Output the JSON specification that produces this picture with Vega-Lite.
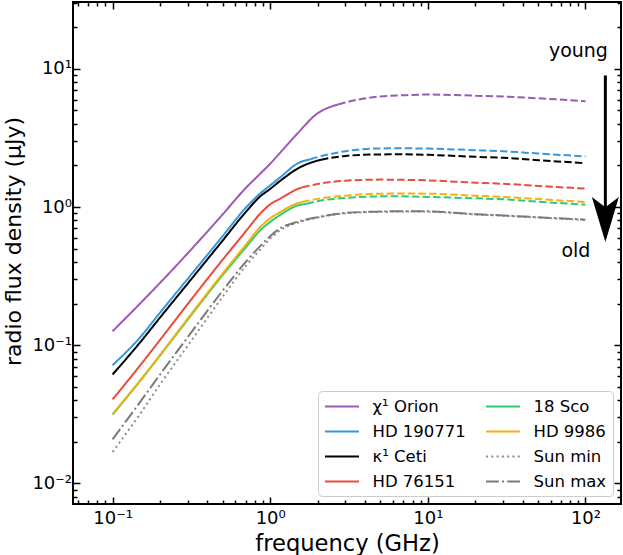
{
  "$schema": "https://vega.github.io/schema/vega-lite/v6.json",
  "width": 548,
  "height": 502,
  "autosize": {"type": "none"},
  "padding": {"left": 73, "top": 2, "right": 2, "bottom": 51},
  "background": "white",
  "config": {
    "view": {"stroke": "black", "strokeWidth": 2},
    "font": "DejaVu Sans",
    "axis": {
      "grid": false,
      "domain": false,
      "ticks": true,
      "tickColor": "black",
      "tickWidth": 1.5,
      "labelFont": "DejaVu Sans",
      "labelFontSize": 18,
      "labelColor": "black",
      "titleFont": "DejaVu Sans",
      "titleFontSize": 22.6,
      "titleFontWeight": "normal",
      "titleColor": "black",
      "labelOverlap": false,
      "labelFlush": false
    }
  },
  "datasets": {
    "curves": [
      {"name": "χ¹ Orion", "seg": "solid", "f": 0.1, "v": 0.1263},
      {"name": "χ¹ Orion", "seg": "solid", "f": 0.15, "v": 0.2012},
      {"name": "χ¹ Orion", "seg": "solid", "f": 0.2, "v": 0.2826},
      {"name": "χ¹ Orion", "seg": "solid", "f": 0.3, "v": 0.4634},
      {"name": "χ¹ Orion", "seg": "solid", "f": 0.5, "v": 0.8871},
      {"name": "χ¹ Orion", "seg": "solid", "f": 0.7, "v": 1.374},
      {"name": "χ¹ Orion", "seg": "solid", "f": 0.864, "v": 1.744},
      {"name": "χ¹ Orion", "seg": "solid", "f": 1, "v": 2.06},
      {"name": "χ¹ Orion", "seg": "solid", "f": 1.157, "v": 2.474},
      {"name": "χ¹ Orion", "seg": "solid", "f": 1.5, "v": 3.44},
      {"name": "χ¹ Orion", "seg": "solid", "f": 2, "v": 4.775},
      {"name": "χ¹ Orion", "seg": "solid", "f": 2.4, "v": 5.303},
      {"name": "χ¹ Orion", "seg": "solid", "f": 2.7, "v": 5.53},
      {"name": "χ¹ Orion", "seg": "dashed", "f": 2.7, "v": 5.53},
      {"name": "χ¹ Orion", "seg": "dashed", "f": 3, "v": 5.72},
      {"name": "χ¹ Orion", "seg": "dashed", "f": 5, "v": 6.317},
      {"name": "χ¹ Orion", "seg": "dashed", "f": 7, "v": 6.445},
      {"name": "χ¹ Orion", "seg": "dashed", "f": 10, "v": 6.521},
      {"name": "χ¹ Orion", "seg": "dashed", "f": 20, "v": 6.402},
      {"name": "χ¹ Orion", "seg": "dashed", "f": 30, "v": 6.306},
      {"name": "χ¹ Orion", "seg": "dashed", "f": 50, "v": 6.13},
      {"name": "χ¹ Orion", "seg": "dashed", "f": 100, "v": 5.841},

      {"name": "HD 190771", "seg": "solid", "f": 0.1, "v": 0.0717},
      {"name": "HD 190771", "seg": "solid", "f": 0.15, "v": 0.1145},
      {"name": "HD 190771", "seg": "solid", "f": 0.2, "v": 0.1721},
      {"name": "HD 190771", "seg": "solid", "f": 0.3, "v": 0.3026},
      {"name": "HD 190771", "seg": "solid", "f": 0.5, "v": 0.617},
      {"name": "HD 190771", "seg": "solid", "f": 0.7, "v": 0.9884},
      {"name": "HD 190771", "seg": "solid", "f": 0.864, "v": 1.256},
      {"name": "HD 190771", "seg": "solid", "f": 1, "v": 1.435},
      {"name": "HD 190771", "seg": "solid", "f": 1.157, "v": 1.64},
      {"name": "HD 190771", "seg": "solid", "f": 1.5, "v": 2.077},
      {"name": "HD 190771", "seg": "solid", "f": 1.8, "v": 2.22},
      {"name": "HD 190771", "seg": "dashed", "f": 1.8, "v": 2.22},
      {"name": "HD 190771", "seg": "dashed", "f": 2, "v": 2.299},
      {"name": "HD 190771", "seg": "dashed", "f": 3, "v": 2.537},
      {"name": "HD 190771", "seg": "dashed", "f": 5, "v": 2.658},
      {"name": "HD 190771", "seg": "dashed", "f": 7, "v": 2.662},
      {"name": "HD 190771", "seg": "dashed", "f": 10, "v": 2.649},
      {"name": "HD 190771", "seg": "dashed", "f": 20, "v": 2.579},
      {"name": "HD 190771", "seg": "dashed", "f": 30, "v": 2.537},
      {"name": "HD 190771", "seg": "dashed", "f": 50, "v": 2.441},
      {"name": "HD 190771", "seg": "dashed", "f": 100, "v": 2.326},

      {"name": "κ¹ Ceti", "seg": "solid", "f": 0.1, "v": 0.0614},
      {"name": "κ¹ Ceti", "seg": "solid", "f": 0.15, "v": 0.1053},
      {"name": "κ¹ Ceti", "seg": "solid", "f": 0.2, "v": 0.1586},
      {"name": "κ¹ Ceti", "seg": "solid", "f": 0.3, "v": 0.2798},
      {"name": "κ¹ Ceti", "seg": "solid", "f": 0.5, "v": 0.5735},
      {"name": "κ¹ Ceti", "seg": "solid", "f": 0.7, "v": 0.9216},
      {"name": "κ¹ Ceti", "seg": "solid", "f": 0.864, "v": 1.195},
      {"name": "κ¹ Ceti", "seg": "solid", "f": 1, "v": 1.354},
      {"name": "κ¹ Ceti", "seg": "solid", "f": 1.157, "v": 1.547},
      {"name": "κ¹ Ceti", "seg": "solid", "f": 1.5, "v": 1.905},
      {"name": "κ¹ Ceti", "seg": "solid", "f": 2, "v": 2.169},
      {"name": "κ¹ Ceti", "seg": "solid", "f": 2.1, "v": 2.201},
      {"name": "κ¹ Ceti", "seg": "dashed", "f": 2.1, "v": 2.201},
      {"name": "κ¹ Ceti", "seg": "dashed", "f": 3, "v": 2.346},
      {"name": "κ¹ Ceti", "seg": "dashed", "f": 5, "v": 2.404},
      {"name": "κ¹ Ceti", "seg": "dashed", "f": 7, "v": 2.408},
      {"name": "κ¹ Ceti", "seg": "dashed", "f": 10, "v": 2.388},
      {"name": "κ¹ Ceti", "seg": "dashed", "f": 20, "v": 2.31},
      {"name": "κ¹ Ceti", "seg": "dashed", "f": 30, "v": 2.272},
      {"name": "κ¹ Ceti", "seg": "dashed", "f": 50, "v": 2.183},
      {"name": "κ¹ Ceti", "seg": "dashed", "f": 100, "v": 2.08},

      {"name": "HD 76151", "seg": "solid", "f": 0.1, "v": 0.0405},
      {"name": "HD 76151", "seg": "solid", "f": 0.15, "v": 0.0717},
      {"name": "HD 76151", "seg": "solid", "f": 0.2, "v": 0.1092},
      {"name": "HD 76151", "seg": "solid", "f": 0.3, "v": 0.1989},
      {"name": "HD 76151", "seg": "solid", "f": 0.5, "v": 0.4165},
      {"name": "HD 76151", "seg": "solid", "f": 0.7, "v": 0.6673},
      {"name": "HD 76151", "seg": "solid", "f": 0.864, "v": 0.896},
      {"name": "HD 76151", "seg": "solid", "f": 1, "v": 1.046},
      {"name": "HD 76151", "seg": "solid", "f": 1.157, "v": 1.15},
      {"name": "HD 76151", "seg": "solid", "f": 1.5, "v": 1.354},
      {"name": "HD 76151", "seg": "solid", "f": 1.6, "v": 1.388},
      {"name": "HD 76151", "seg": "dashed", "f": 1.6, "v": 1.388},
      {"name": "HD 76151", "seg": "dashed", "f": 2, "v": 1.471},
      {"name": "HD 76151", "seg": "dashed", "f": 3, "v": 1.552},
      {"name": "HD 76151", "seg": "dashed", "f": 5, "v": 1.58},
      {"name": "HD 76151", "seg": "dashed", "f": 7, "v": 1.575},
      {"name": "HD 76151", "seg": "dashed", "f": 10, "v": 1.56},
      {"name": "HD 76151", "seg": "dashed", "f": 20, "v": 1.501},
      {"name": "HD 76151", "seg": "dashed", "f": 30, "v": 1.474},
      {"name": "HD 76151", "seg": "dashed", "f": 50, "v": 1.423},
      {"name": "HD 76151", "seg": "dashed", "f": 100, "v": 1.359},

      {"name": "18 Sco", "seg": "solid", "f": 0.1, "v": 0.0314},
      {"name": "18 Sco", "seg": "solid", "f": 0.15, "v": 0.0554},
      {"name": "18 Sco", "seg": "solid", "f": 0.2, "v": 0.0842},
      {"name": "18 Sco", "seg": "solid", "f": 0.3, "v": 0.1534},
      {"name": "18 Sco", "seg": "solid", "f": 0.5, "v": 0.3228},
      {"name": "18 Sco", "seg": "solid", "f": 0.7, "v": 0.5111},
      {"name": "18 Sco", "seg": "solid", "f": 0.864, "v": 0.6783},
      {"name": "18 Sco", "seg": "solid", "f": 1, "v": 0.7815},
      {"name": "18 Sco", "seg": "solid", "f": 1.157, "v": 0.8782},
      {"name": "18 Sco", "seg": "solid", "f": 1.5, "v": 1.029},
      {"name": "18 Sco", "seg": "solid", "f": 1.7, "v": 1.055},
      {"name": "18 Sco", "seg": "dashed", "f": 1.7, "v": 1.055},
      {"name": "18 Sco", "seg": "dashed", "f": 2, "v": 1.103},
      {"name": "18 Sco", "seg": "dashed", "f": 3, "v": 1.164},
      {"name": "18 Sco", "seg": "dashed", "f": 5, "v": 1.195},
      {"name": "18 Sco", "seg": "dashed", "f": 7, "v": 1.195},
      {"name": "18 Sco", "seg": "dashed", "f": 10, "v": 1.185},
      {"name": "18 Sco", "seg": "dashed", "f": 20, "v": 1.156},
      {"name": "18 Sco", "seg": "dashed", "f": 30, "v": 1.139},
      {"name": "18 Sco", "seg": "dashed", "f": 50, "v": 1.094},
      {"name": "18 Sco", "seg": "dashed", "f": 100, "v": 1.041},

      {"name": "HD 9986", "seg": "solid", "f": 0.1, "v": 0.0317},
      {"name": "HD 9986", "seg": "solid", "f": 0.15, "v": 0.0558},
      {"name": "HD 9986", "seg": "solid", "f": 0.2, "v": 0.0851},
      {"name": "HD 9986", "seg": "solid", "f": 0.3, "v": 0.156},
      {"name": "HD 9986", "seg": "solid", "f": 0.5, "v": 0.3311},
      {"name": "HD 9986", "seg": "solid", "f": 0.7, "v": 0.5329},
      {"name": "HD 9986", "seg": "solid", "f": 0.864, "v": 0.7166},
      {"name": "HD 9986", "seg": "solid", "f": 1, "v": 0.8286},
      {"name": "HD 9986", "seg": "solid", "f": 1.157, "v": 0.9202},
      {"name": "HD 9986", "seg": "solid", "f": 1.5, "v": 1.069},
      {"name": "HD 9986", "seg": "solid", "f": 1.6, "v": 1.09},
      {"name": "HD 9986", "seg": "dashed", "f": 1.6, "v": 1.09},
      {"name": "HD 9986", "seg": "dashed", "f": 2, "v": 1.146},
      {"name": "HD 9986", "seg": "dashed", "f": 3, "v": 1.209},
      {"name": "HD 9986", "seg": "dashed", "f": 5, "v": 1.25},
      {"name": "HD 9986", "seg": "dashed", "f": 7, "v": 1.252},
      {"name": "HD 9986", "seg": "dashed", "f": 10, "v": 1.25},
      {"name": "HD 9986", "seg": "dashed", "f": 20, "v": 1.207},
      {"name": "HD 9986", "seg": "dashed", "f": 30, "v": 1.185},
      {"name": "HD 9986", "seg": "dashed", "f": 50, "v": 1.143},
      {"name": "HD 9986", "seg": "dashed", "f": 100, "v": 1.087},

      {"name": "Sun min", "seg": "sun", "f": 0.1, "v": 0.0169},
      {"name": "Sun min", "seg": "sun", "f": 0.15, "v": 0.032},
      {"name": "Sun min", "seg": "sun", "f": 0.2, "v": 0.052},
      {"name": "Sun min", "seg": "sun", "f": 0.3, "v": 0.0993},
      {"name": "Sun min", "seg": "sun", "f": 0.5, "v": 0.225},
      {"name": "Sun min", "seg": "sun", "f": 0.7, "v": 0.3751},
      {"name": "Sun min", "seg": "sun", "f": 0.864, "v": 0.492},
      {"name": "Sun min", "seg": "sun", "f": 1, "v": 0.5907},
      {"name": "Sun min", "seg": "sun", "f": 1.157, "v": 0.6783},
      {"name": "Sun min", "seg": "sun", "f": 1.5, "v": 0.7713},
      {"name": "Sun min", "seg": "sun", "f": 2, "v": 0.8396},
      {"name": "Sun min", "seg": "sun", "f": 3, "v": 0.9019},
      {"name": "Sun min", "seg": "sun", "f": 5, "v": 0.9232},
      {"name": "Sun min", "seg": "sun", "f": 7, "v": 0.9294},
      {"name": "Sun min", "seg": "sun", "f": 10, "v": 0.9263},
      {"name": "Sun min", "seg": "sun", "f": 20, "v": 0.8841},
      {"name": "Sun min", "seg": "sun", "f": 30, "v": 0.8651},
      {"name": "Sun min", "seg": "sun", "f": 50, "v": 0.8396},
      {"name": "Sun min", "seg": "sun", "f": 100, "v": 0.8067},

      {"name": "Sun max", "seg": "sun", "f": 0.1, "v": 0.0208},
      {"name": "Sun max", "seg": "sun", "f": 0.15, "v": 0.039},
      {"name": "Sun max", "seg": "sun", "f": 0.2, "v": 0.0614},
      {"name": "Sun max", "seg": "sun", "f": 0.3, "v": 0.1145},
      {"name": "Sun max", "seg": "sun", "f": 0.5, "v": 0.2486},
      {"name": "Sun max", "seg": "sun", "f": 0.7, "v": 0.4009},
      {"name": "Sun max", "seg": "sun", "f": 0.864, "v": 0.5215},
      {"name": "Sun max", "seg": "sun", "f": 1, "v": 0.616},
      {"name": "Sun max", "seg": "sun", "f": 1.157, "v": 0.7015},
      {"name": "Sun max", "seg": "sun", "f": 1.5, "v": 0.7842},
      {"name": "Sun max", "seg": "sun", "f": 2, "v": 0.8439},
      {"name": "Sun max", "seg": "sun", "f": 3, "v": 0.9066},
      {"name": "Sun max", "seg": "sun", "f": 5, "v": 0.9278},
      {"name": "Sun max", "seg": "sun", "f": 7, "v": 0.934},
      {"name": "Sun max", "seg": "sun", "f": 10, "v": 0.9309},
      {"name": "Sun max", "seg": "sun", "f": 20, "v": 0.8887},
      {"name": "Sun max", "seg": "sun", "f": 30, "v": 0.8695},
      {"name": "Sun max", "seg": "sun", "f": 50, "v": 0.8439},
      {"name": "Sun max", "seg": "sun", "f": 100, "v": 0.8108}
    ],
    "notes": [
      {"label": "young", "f": 90.2, "v": 12.29},
      {"label": "old", "f": 86.9, "v": 0.435}
    ],
    "shaft": [
      {"f": 133.7, "v": 8.96, "v2": 0.87}
    ],
    "head": [
      {"f": 133.7, "v": 0.812}
    ]
  },
  "layer": [
    {
      "data": {"name": "curves"},
      "transform": [{"filter": "datum.seg != 'dashed'"}],
      "mark": {"type": "line", "strokeWidth": 2, "interpolate": "monotone", "clip": true},
      "encoding": {
        "x": {
          "field": "f",
          "type": "quantitative",
          "scale": {"type": "log", "domain": [0.0561, 168], "nice": false},
          "axis": {
            "orient": "bottom",
            "title": "frequency (GHz)",
            "titlePadding": 2.5,
            "values": [0.06, 0.07, 0.08, 0.09, 0.1, 0.2, 0.3, 0.4, 0.5, 0.6, 0.7, 0.8, 0.9, 1, 2, 3, 4, 5, 6, 7, 8, 9, 10, 20, 30, 40, 50, 60, 70, 80, 90, 100],
            "labelExpr": "datum.value === 0.1 ? '10⁻¹' : datum.value === 1 ? '10⁰' : datum.value === 10 ? '10¹' : datum.value === 100 ? '10²' : ''",
            "labelPadding": 12,
            "tickSize": {"condition": {"test": "datum.value === 0.1 || datum.value === 1 || datum.value === 10 || datum.value === 100", "value": -7}, "value": -4}
          }
        },
        "y": {
          "field": "v",
          "type": "quantitative",
          "scale": {"type": "log", "domain": [0.00709, 30.5], "nice": false},
          "axis": {
            "orient": "left",
            "title": "radio flux density  (μJy)",
            "titleFontSize": 22,
            "titlePadding": 6,
            "titleY": 239,
            "values": [0.008, 0.009, 0.01, 0.02, 0.03, 0.04, 0.05, 0.06, 0.07, 0.08, 0.09, 0.1, 0.2, 0.3, 0.4, 0.5, 0.6, 0.7, 0.8, 0.9, 1, 2, 3, 4, 5, 6, 7, 8, 9, 10, 20, 30],
            "labelExpr": "datum.value === 0.01 ? '10⁻²' : datum.value === 0.1 ? '10⁻¹' : datum.value === 1 ? '10⁰' : datum.value === 10 ? '10¹' : ''",
            "labelPadding": 8.5,
            "tickSize": {"condition": {"test": "datum.value === 0.01 || datum.value === 0.1 || datum.value === 1 || datum.value === 10", "value": -7}, "value": -4}
          }
        },
        "color": {
          "field": "name",
          "type": "nominal",
          "scale": {
            "domain": ["χ¹ Orion", "HD 190771", "κ¹ Ceti", "HD 76151", "18 Sco", "HD 9986", "Sun min", "Sun max"],
            "range": ["#9b59b6", "#3498db", "#000000", "#e74c3c", "#2ecc71", "#f1b20f", "#8c8c8c", "#7a7a7a"]
          },
          "legend": {
            "title": null,
            "orient": "bottom-right",
            "offset": 8,
            "columns": 2,
            "gridAlign": "each",
            "symbolType": "M-1,0H3",
            "symbolSize": 289,
            "symbolStrokeWidth": 2,
            "labelFont": "DejaVu Sans",
            "labelFontSize": 16.5,
            "labelColor": "black",
            "labelOffset": 29.5,
            "labelLimit": 300,
            "rowPadding": 7,
            "columnPadding": 16,
            "padding": 6,
            "fillColor": "white",
            "strokeColor": "#cccccc",
            "cornerRadius": 4
          }
        },
        "strokeDash": {
          "field": "name",
          "type": "nominal",
          "scale": {
            "domain": ["χ¹ Orion", "HD 190771", "κ¹ Ceti", "HD 76151", "18 Sco", "HD 9986", "Sun min", "Sun max"],
            "range": [[1, 0], [1, 0], [1, 0], [1, 0], [1, 0], [1, 0], [2, 3.3], [12.8, 3.2, 2, 3.2]]
          },
          "legend": {
            "title": null,
            "orient": "bottom-right",
            "offset": 8,
            "columns": 2,
            "gridAlign": "each",
            "symbolType": "M-1,0H3",
            "symbolSize": 289,
            "symbolStrokeWidth": 2,
            "labelFont": "DejaVu Sans",
            "labelFontSize": 16.5,
            "labelColor": "black",
            "labelOffset": 29.5,
            "labelLimit": 300,
            "rowPadding": 7,
            "columnPadding": 16,
            "padding": 6,
            "fillColor": "white",
            "strokeColor": "#cccccc",
            "cornerRadius": 4
          }
        }
      }
    },
    {
      "data": {"name": "curves"},
      "transform": [{"filter": "datum.seg == 'dashed'"}],
      "mark": {"type": "line", "strokeWidth": 2, "strokeDash": [7.4, 3.2], "interpolate": "monotone", "clip": true},
      "encoding": {
        "x": {"field": "f", "type": "quantitative", "axis": null},
        "y": {"field": "v", "type": "quantitative", "axis": null},
        "stroke": {
          "field": "name",
          "type": "nominal",
          "legend": null,
          "scale": {
            "domain": ["χ¹ Orion", "HD 190771", "κ¹ Ceti", "HD 76151", "18 Sco", "HD 9986", "Sun min", "Sun max"],
            "range": ["#9b59b6", "#3498db", "#000000", "#e74c3c", "#2ecc71", "#f1b20f", "#8c8c8c", "#7a7a7a"]
          }
        }
      }
    },
    {
      "data": {"name": "shaft"},
      "mark": {"type": "rule", "strokeWidth": 3, "color": "black"},
      "encoding": {
        "x": {"field": "f", "type": "quantitative", "axis": null},
        "y": {"field": "v", "type": "quantitative", "axis": null},
        "y2": {"field": "v2"}
      }
    },
    {
      "data": {"name": "notes"},
      "mark": {"type": "text", "fontSize": 19, "font": "DejaVu Sans", "align": "center", "baseline": "alphabetic", "color": "black"},
      "encoding": {
        "x": {"field": "f", "type": "quantitative", "axis": null},
        "y": {"field": "v", "type": "quantitative", "axis": null},
        "text": {"field": "label"}
      }
    },
    {
      "data": {"name": "head"},
      "mark": {"type": "point", "shape": "M0,1L-0.6,-1L0,-0.55L0.6,-1Z", "size": 2025, "filled": true, "color": "black", "opacity": 1, "strokeWidth": 0},
      "encoding": {
        "x": {
          "field": "f",
          "type": "quantitative",
          "axis": {
            "orient": "top",
            "title": null,
            "labels": false,
            "values": [0.06, 0.07, 0.08, 0.09, 0.1, 0.2, 0.3, 0.4, 0.5, 0.6, 0.7, 0.8, 0.9, 1, 2, 3, 4, 5, 6, 7, 8, 9, 10, 20, 30, 40, 50, 60, 70, 80, 90, 100],
            "tickSize": {"condition": {"test": "datum.value === 0.1 || datum.value === 1 || datum.value === 10 || datum.value === 100", "value": -7}, "value": -4}
          }
        },
        "y": {
          "field": "v",
          "type": "quantitative",
          "axis": {
            "orient": "right",
            "title": null,
            "labels": false,
            "values": [0.008, 0.009, 0.01, 0.02, 0.03, 0.04, 0.05, 0.06, 0.07, 0.08, 0.09, 0.1, 0.2, 0.3, 0.4, 0.5, 0.6, 0.7, 0.8, 0.9, 1, 2, 3, 4, 5, 6, 7, 8, 9, 10, 20, 30],
            "tickSize": {"condition": {"test": "datum.value === 0.01 || datum.value === 0.1 || datum.value === 1 || datum.value === 10", "value": -7}, "value": -4}
          }
        }
      }
    }
  ],
  "resolve": {"axis": {"x": "independent", "y": "independent"}}
}
